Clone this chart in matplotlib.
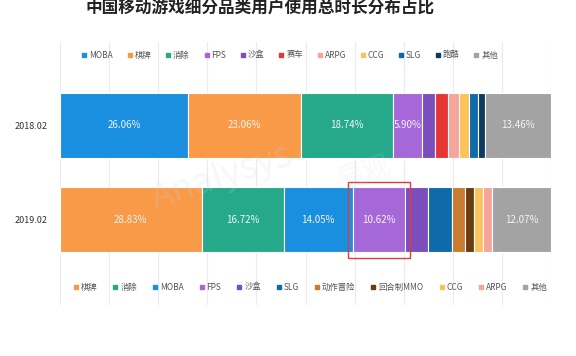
import matplotlib
matplotlib.use("Agg")
import matplotlib.pyplot as plt
from matplotlib.lines import Line2D
from matplotlib.patches import Rectangle

plt.rcParams['font.family'] = ['Noto Sans CJK SC', 'DejaVu Sans']

# ---- données ----
title = '中国移动游戏细分品类用户使用总时长分布占比'
years = ['2018.02', '2019.02']

cats_2018 = ['MOBA', '棋牌', '消除', 'FPS', '沙盒', '赛车', 'ARPG', 'CCG', 'SLG', '跑酷', '其他']
vals_2018 = [26.06, 23.06, 18.74, 5.90, 2.70, 2.50, 2.30, 2.10, 1.80, 1.38, 13.46]

cats_2019 = ['棋牌', '消除', 'MOBA', 'FPS', '沙盒', 'SLG', '动作冒险', '回合制MMO', 'CCG', 'ARPG', '其他']
vals_2019 = [28.83, 16.72, 14.05, 10.62, 4.82, 4.75, 2.63, 1.91, 1.90, 1.70, 12.07]

colors = {
    'MOBA': '#1A8FE0', '棋牌': '#F89A47', '消除': '#26A98B', 'FPS': '#A667D8',
    '沙盒': '#7B4EBE', '赛车': '#E53535', 'ARPG': '#F5A59A', 'CCG': '#FAC35C',
    'SLG': '#0E6AA8', '跑酷': '#0E3A60', '其他': '#A3A3A3',
    '动作冒险': '#C97B30', '回合制MMO': '#6A3C12',
}

rows = [(cats_2018, vals_2018), (cats_2019, vals_2019)]

# ---- figure ----
fig = plt.figure(figsize=(5.76, 3.56), dpi=100)
ax = fig.add_axes([60 / 576, 1 - 305 / 356, 491 / 576, 263 / 356])

for i, (cats, vals) in enumerate(rows):
    left = 0.0
    for c, v in zip(cats, vals):
        ax.barh(i, v, left=left, height=0.69, color=colors[c],
                edgecolor='white', linewidth=0.8, zorder=2)
        if v >= 5:
            ax.text(left + v / 2, i, f'{v:.2f}%', ha='center', va='center',
                    color='#f4f4f4', fontsize=7, zorder=3)
        left += v

# cadre rouge autour de FPS 2019
start = sum(vals_2019[:cats_2019.index('FPS')])
w = vals_2019[cats_2019.index('FPS')]
ax.add_patch(Rectangle((start - 1.0, 1 - 0.40), w + 2.0, 0.80, fill=False,
                       edgecolor='#E03A3A', linewidth=1.0, zorder=4))

ax.set_xlim(0, 100)
ax.set_ylim(1.9, -0.88)
ax.set_xticks(range(0, 101, 10))
ax.set_xticklabels([])
ax.tick_params(axis='x', length=0)
ax.grid(axis='x', color='#ebebeb', linewidth=0.8, zorder=0)
ax.set_yticks([0, 1])
ax.set_yticklabels(years, fontsize=6.5, color='#333333')
ax.tick_params(axis='y', length=0, pad=9)
for s in ax.spines.values():
    s.set_visible(False)

# filigrane
ax.text(33, 0.55, 'Analysys', fontsize=26, color='#c9d8e6', alpha=0.18,
        rotation=18, ha='center', va='center', zorder=5, style='italic')
ax.text(62, 0.5, '易观', fontsize=20, color='#c9d8e6', alpha=0.15,
        rotation=18, ha='center', va='center', zorder=5)

fig.text(260 / 576, 1 - 9 / 356, title, ha='center', va='center',
         fontsize=12, fontweight='bold', color='#222222')


def make_handles(cats):
    return [Line2D([], [], marker='s', linestyle='none', markersize=2.6,
                   color=colors[c], label=c) for c in cats]


fig.legend(handles=make_handles(cats_2018), loc='center',
           bbox_to_anchor=(290 / 576, 1 - 55 / 356), ncol=11, frameon=False,
           fontsize=6, handlelength=0.6, handletextpad=0.3, columnspacing=1.7,
           labelcolor='#555555')
fig.legend(handles=make_handles(cats_2019), loc='center',
           bbox_to_anchor=(310 / 576, 1 - 287 / 356), ncol=11, frameon=False,
           fontsize=6, handlelength=0.6, handletextpad=0.3, columnspacing=1.85,
           labelcolor='#555555')

fig.savefig('out.png', dpi=100)
